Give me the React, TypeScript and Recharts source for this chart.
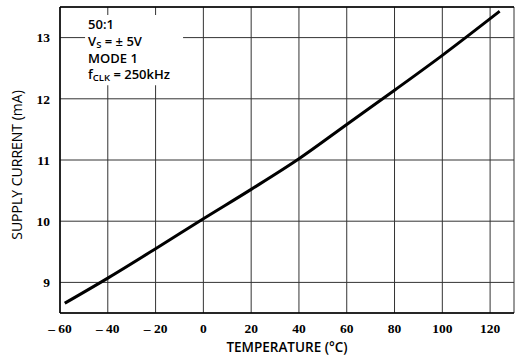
import {
  LineChart,
  Line,
  XAxis,
  YAxis,
  CartesianGrid,
  ReferenceLine,
  ReferenceArea,
} from "recharts";

const temperatures = [-58, -40, -20, 0, 20, 40, 60, 80, 100, 124];
const supplyCurrent = [8.66, 9.07, 9.55, 10.04, 10.52, 11.02, 11.58, 12.14, 12.71, 13.43];
const xTicks = [-60, -40, -20, 0, 20, 40, 60, 80, 100, 120];
const yTicks = [9, 10, 11, 12, 13];
const noteLines = ["50:1", "VS", "MODE 1", "fCLK"];

const data = temperatures.map((t, i) => ({ t, ma: supplyCurrent[i] }));

const tickStyle = {
  fontFamily: "'Liberation Serif', serif",
  fontWeight: 700,
  fontSize: 13.5,
  fill: "#000",
};

const labelFont = "'Open Sans', sans-serif";

function fmtX(v: number) {
  return v < 0 ? `– ${-v}` : `${v}`;
}

function NoteBox(props: any) {
  const { x, y } = props.viewBox;
  const tx = x + 3;
  const common = {
    fontFamily: labelFont,
    fontSize: 13,
    fontWeight: 600,
    fill: "#000",
  };
  return (
    <g>
      <text x={tx} y={y + 14} {...common}>{noteLines[0]}</text>
      <text x={tx} y={y + 31} {...common}>
        V<tspan fontSize={9.5} dy={2}>S</tspan>
        <tspan dy={-2}> = ± 5V</tspan>
      </text>
      <text x={tx} y={y + 48} {...common}>{noteLines[2]}</text>
      <text x={tx} y={y + 64} {...common}>
        f<tspan fontSize={9.5} dy={2}>CLK</tspan>
        <tspan dy={-2}> = 250kHz</tspan>
      </text>
    </g>
  );
}

function YTitle(props: any) {
  const { x, y, height } = props.viewBox;
  const cx = x + 16;
  const cy = y + height / 2 + 5;
  return (
    <text
      x={cx}
      y={cy}
      transform={`rotate(-90 ${cx} ${cy})`}
      textAnchor="middle"
      dominantBaseline="central"
      fontFamily={labelFont}
      fontSize={14}
      fontWeight={500}
      fill="#000"
    >
      SUPPLY CURRENT (mA)
    </text>
  );
}

export default function App() {
  return (
    <div style={{ position: "absolute", left: 0, top: 0, background: "#fff" }}>
      <LineChart
        width={515}
        height={355}
        data={data}
        margin={{ top: 7, right: 1, left: 0, bottom: 0 }}
      >
        <CartesianGrid stroke="#333" strokeWidth={1} />
        <XAxis
          dataKey="t"
          type="number"
          domain={[-60, 130]}
          ticks={xTicks}
          tickFormatter={fmtX}
          allowDataOverflow
          height={42}
          tickLine={false}
          axisLine={{ stroke: "#000", strokeWidth: 1.5 }}
          tick={tickStyle}
          tickMargin={4}
          label={{
            value: "TEMPERATURE (°C)",
            position: "insideBottom",
            offset: 3,
            style: { fontFamily: labelFont, fontSize: 13.5, fontWeight: 600, fill: "#000" },
          }}
        />
        <YAxis
          type="number"
          domain={[8.5, 13.5]}
          ticks={yTicks}
          allowDataOverflow
          width={60}
          tickLine={false}
          axisLine={{ stroke: "#000", strokeWidth: 1.5 }}
          tick={tickStyle}
          tickMargin={4}
          label={<YTitle />}
        />
        <ReferenceLine y={13.5} stroke="#000" strokeWidth={1.5} />
        <ReferenceArea
          x1={-49.5}
          x2={-8.5}
          y1={12.22}
          y2={13.37}
          fill="#fff"
          fillOpacity={1}
          stroke="none"
          label={<NoteBox />}
        />
        <Line
          dataKey="ma"
          type="monotone"
          stroke="#000"
          strokeWidth={3}
          dot={false}
          isAnimationActive={false}
        />
      </LineChart>
    </div>
  );
}
